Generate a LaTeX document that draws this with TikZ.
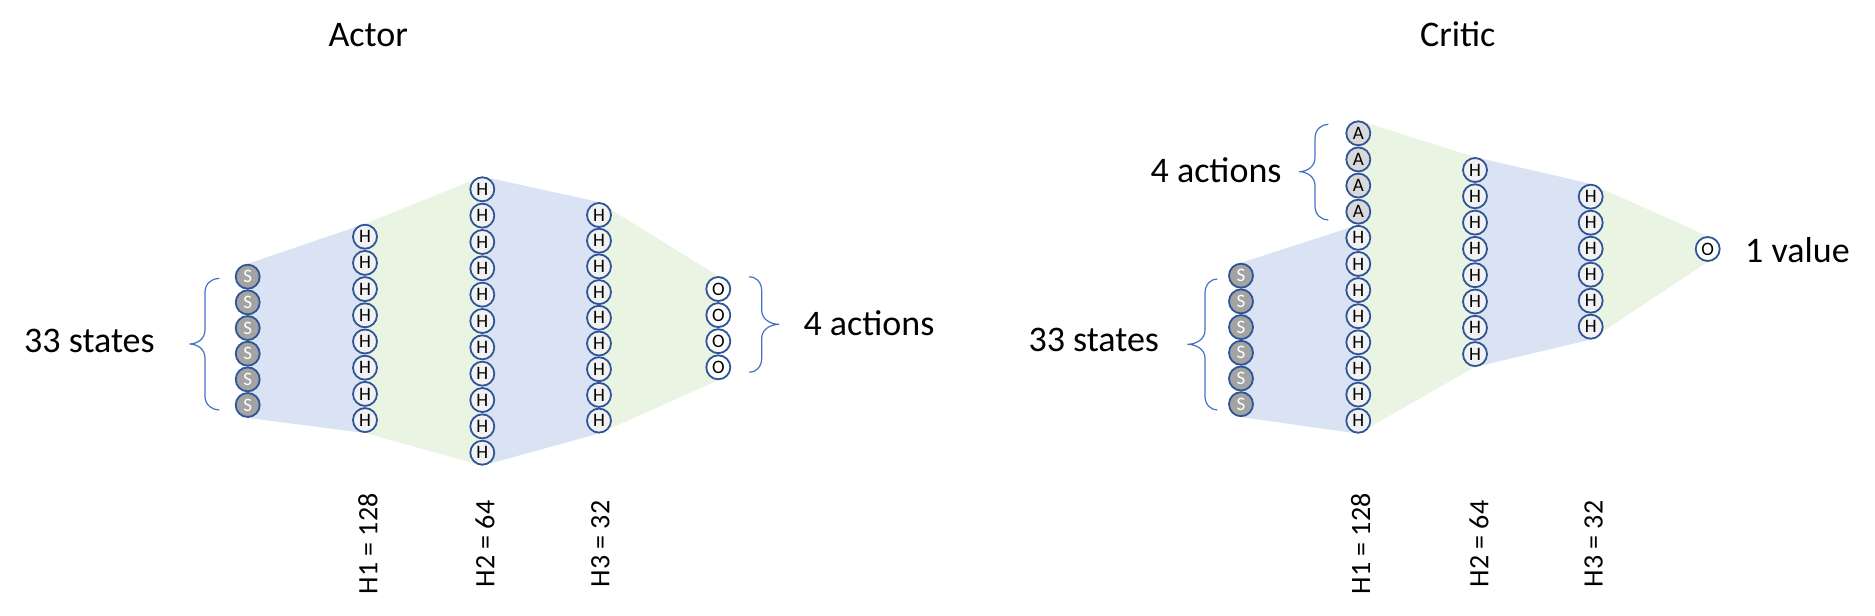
\documentclass[tikz,border=0pt]{standalone}
\usepackage{fontspec}
\setmainfont{Carlito}
\usetikzlibrary{backgrounds}
\definecolor{ncol}{HTML}{2F5597}
\definecolor{hfill}{HTML}{F2F2F2}
\definecolor{sfill}{HTML}{A3A3A3}
\definecolor{afill}{HTML}{D9D9D9}
\definecolor{bluereg}{HTML}{DAE3F3}
\definecolor{greenreg}{HTML}{E9F4E3}
\definecolor{bracecol}{HTML}{4472C4}
\newcommand\mybrace[6]{% #1 end x, #2 mid x, #3 tip x, #4 top y, #5 bottom y, #6 tip y
  \draw[bracestyle] (#1,#4) .. controls ({#2+0.5*(#1-#2)},#4) and (#2,{#4+5}) .. (#2,{#4+14})
    -- (#2,{#6-14}) .. controls (#2,{#6-5}) and ({#3+0.5*(#2-#3)},#6) .. (#3,#6)
    .. controls ({#3+0.5*(#2-#3)},#6) and (#2,{#6+5}) .. (#2,{#6+14})
    -- (#2,{#5-14}) .. controls (#2,{#5-5}) and ({#2+0.5*(#1-#2)},#5) .. (#1,#5);}
\tikzset{
  unit/.style={circle, draw=ncol, line width=1.8pt, minimum size=24pt, inner sep=0pt,
    font=\fontsize{19}{19}\selectfont},
  hnode/.style={unit, fill=hfill, text=black},
  snode/.style={unit, fill=sfill, text=white},
  anode/.style={unit, fill=afill, text=black},
  onode/.style={unit, fill=white, text=black},
  bigtext/.style={inner sep=0pt, font=\fontsize{36}{40}\selectfont},
  vlabel/.style={inner sep=0pt, rotate=90, anchor=base, font=\fontsize{28}{32}\selectfont},
  bracestyle/.style={draw=bracecol, line width=1.2pt},
  bluefill/.style={fill=bluereg},
  greenfill/.style={fill=greenreg}
}
\begin{document}
\begin{tikzpicture}[x=1pt,y=-1pt]
\useasboundingbox (0,0) rectangle (1875,616);
% ---------------- Actor ----------------
\node[bigtext, anchor=base] (atitle) at (368.3,46.7) {Actor};
\foreach \i in {1,...,6} \node[snode] (aS\i) at (247.7,{276.7+(\i-1)*25.66}) {S};
\foreach \i in {1,...,8} \node[hnode] (aHa\i) at (365,{236.7+(\i-1)*26.2}) {H};
\foreach \i in {1,...,11} \node[hnode] (aHb\i) at (482.3,{189.3+(\i-1)*26.34}) {H};
\foreach \i in {1,...,9} \node[hnode] (aHc\i) at (599,{215+(\i-1)*25.7}) {H};
\foreach \i in {1,...,4} \node[onode] (aO\i) at (718.3,{289+(\i-1)*26.1}) {O};
\begin{pgfonlayer}{background}
  \fill[bluefill] (aS1.north) -- (aHa1.north) -- (aHa8.south) -- (aS6.south) -- cycle;
  \fill[greenfill] (aHa1.north) -- (aHb1.north) -- (aHb11.south) -- (aHa8.south) -- cycle;
  \fill[bluefill] (aHb1.north) -- (aHc1.north) -- (aHc9.south) -- (aHb11.south) -- cycle;
  \fill[greenfill] (aHc1.north) -- (aO1.north) -- (aO4.south) -- (aHc9.south) -- cycle;
\end{pgfonlayer}
\node[bigtext, anchor=base west] (astates) at (24,352.3) {33 states};
\node[bigtext, anchor=base west] (aactions) at (803.3,335.7) {4 actions};
\mybrace{219.3}{205}{189.3}{278.3}{410}{344}
\mybrace{749.3}{761.7}{779.3}{276.7}{372.3}{324.3}
\node[vlabel] (alab1) at (377.3,544) {H1 = 128};
\node[vlabel] (alab2) at (494.3,544) {H2 = 64};
\node[vlabel] (alab3) at (609.3,544) {H3 = 32};
% ---------------- Critic ----------------
\node[bigtext, anchor=base] (ctitle) at (1457.7,46) {Critic};
\foreach \i in {1,...,6} \node[snode] (cS\i) at (1241,{275.7+(\i-1)*25.7}) {S};
\foreach \i in {1,...,4} \node[anode] (cA\i) at (1358.3,{133.3+(\i-1)*26.13}) {A};
\foreach \i in {1,...,8} \node[hnode] (cHa\i) at (1358.3,{133.3+(\i+3)*26.13}) {H};
\foreach \i in {1,...,8} \node[hnode] (cHb\i) at (1475,{170+(\i-1)*26.3}) {H};
\foreach \i in {1,...,6} \node[hnode] (cHc\i) at (1590.7,{196.7+(\i-1)*26}) {H};
\node[onode] (cO) at (1707.7,249) {O};
\begin{pgfonlayer}{background}
  \fill[bluefill] (cS1.north) -- (cHa1.north) -- (cHa8.south) -- (cS6.south) -- cycle;
  \fill[greenfill] (cA1.north) -- (cHb1.north) -- (cHb8.south) -- (cHa8.south) -- cycle;
  \fill[bluefill] (cHb1.north) -- (cHc1.north) -- (cHc6.south) -- (cHb8.south) -- cycle;
  \fill[greenfill] (cHc1.north) -- (cO.north) -- (cO.south) -- (cHc6.south) -- cycle;
\end{pgfonlayer}
\node[bigtext, anchor=base east] (cactions) at (1281.7,182.7) {4 actions};
\node[bigtext, anchor=base west] (cstates) at (1028.3,351.7) {33 states};
\node[bigtext, anchor=base west] (cvalue) at (1745,262.7) {1 value};
\mybrace{1328.3}{1315}{1299}{124.3}{220}{171.7}
\mybrace{1217.3}{1205}{1187.3}{279}{410}{344.3}
\node[vlabel] (clab1) at (1370,544) {H1 = 128};
\node[vlabel] (clab2) at (1488.3,544) {H2 = 64};
\node[vlabel] (clab3) at (1602.7,544) {H3 = 32};
\end{tikzpicture}
\end{document}
